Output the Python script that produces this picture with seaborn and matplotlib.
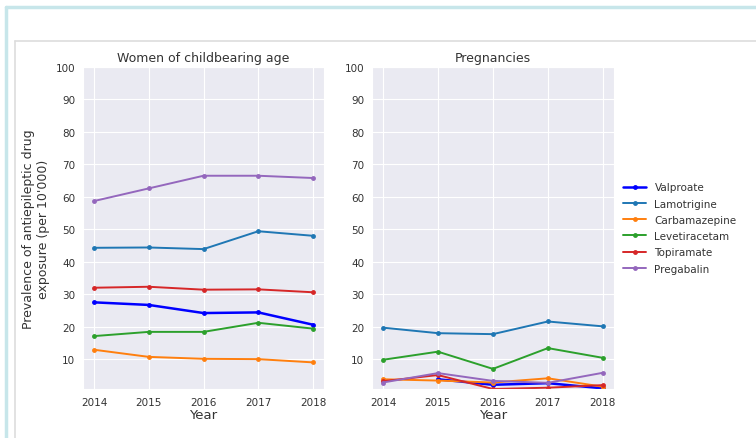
import numpy as np
import pandas as pd
import matplotlib
matplotlib.use("Agg")
import matplotlib.pyplot as plt
from matplotlib.lines import Line2D
import seaborn as sns

years = [2014, 2015, 2016, 2017, 2018]
drugs = ["Valproate", "Lamotrigine", "Carbamazepine", "Levetiracetam", "Topiramate", "Pregabalin"]
colors = ["blue", "tab:blue", "tab:orange", "tab:green", "tab:red", "tab:purple"]

# prevalence per 10'000, women of childbearing age
women_valproate = [27.5, 26.7, 24.2, 24.4, 20.6]
women_lamotrigine = [44.3, 44.4, 43.9, 49.4, 48.0]
women_carbamazepine = [12.9, 10.7, 10.1, 10.0, 9.0]
women_levetiracetam = [17.1, 18.4, 18.4, 21.2, 19.4]
women_topiramate = [32.0, 32.3, 31.4, 31.5, 30.6]
women_pregabalin = [58.7, 62.6, 66.5, 66.5, 65.8]

# prevalence per 10'000, pregnancies
preg_valproate = [np.nan, 3.8, 2.1, 2.6, 1.0]
preg_lamotrigine = [19.7, 18.0, 17.7, 21.6, 20.1]
preg_carbamazepine = [3.8, 3.4, 2.8, 4.1, 1.5]
preg_levetiracetam = [9.8, 12.3, 7.0, 13.4, 10.4]
preg_topiramate = [3.2, 5.1, 0.8, 1.2, 2.0]
preg_pregabalin = [2.8, 5.7, 3.3, 2.7, 5.8]

women = [women_valproate, women_lamotrigine, women_carbamazepine,
         women_levetiracetam, women_topiramate, women_pregabalin]
preg = [preg_valproate, preg_lamotrigine, preg_carbamazepine,
        preg_levetiracetam, preg_topiramate, preg_pregabalin]

sns.set_style("darkgrid")
plt.rcParams["font.family"] = ["DejaVu Sans"]

fig = plt.figure(figsize=(7.56, 4.39), dpi=100)
fig.patch.set_facecolor("white")
ax1 = fig.add_axes([0.1098, 0.1116, 0.3188, 0.7335])
ax2 = fig.add_axes([0.492, 0.1116, 0.320, 0.7335])

# frame lines of the screenshot
fig.add_artist(Line2D([0.008, 1.0], [0.982, 0.982], color="#c7e6ea", lw=2.5))
fig.add_artist(Line2D([0.008, 0.008], [0.0, 0.982], color="#c7e6ea", lw=2.5))
fig.add_artist(Line2D([0.02, 1.0], [0.905, 0.905], color="#dddddd", lw=1.2))
fig.add_artist(Line2D([0.02, 0.02], [0.0, 0.905], color="#dddddd", lw=1.2))

for ax, series, title in [(ax1, women, "Women of childbearing age"), (ax2, preg, "Pregnancies")]:
    for name, vals, col in zip(drugs, series, colors):
        df = pd.DataFrame({"Year": years, "value": vals})
        lw = 1.8 if name == "Valproate" else 1.4
        sns.lineplot(data=df, x="Year", y="value", ax=ax, color=col, lw=lw,
                     marker="o", markersize=3.5, markeredgewidth=0, label=name, legend=False)
    ax.set_title(title, fontsize=9, color=".2", pad=4)
    ax.set_ylim(0.8, 100)
    ax.set_yticks(range(10, 101, 10))
    ax.set_xticks(years)
    ax.tick_params(labelsize=7.5, colors=".2", pad=2)
    ax.set_xlabel("Year", fontsize=9.5, color=".2", labelpad=1)
    ax.set_ylabel("")

ax1.set_ylabel("Prevalence of antiepileptic drug\nexposure (per 10'000)", fontsize=9, color=".2")

handles, labels = ax2.get_legend_handles_labels()
leg = ax2.legend(handles, labels, loc="center left", bbox_to_anchor=(1.0, 0.5),
                 frameon=False, fontsize=7.5, handlelength=2.2, labelspacing=0.6)
for t in leg.get_texts():
    t.set_color(".2")

plt.savefig("out.png", dpi=100, facecolor="white")
